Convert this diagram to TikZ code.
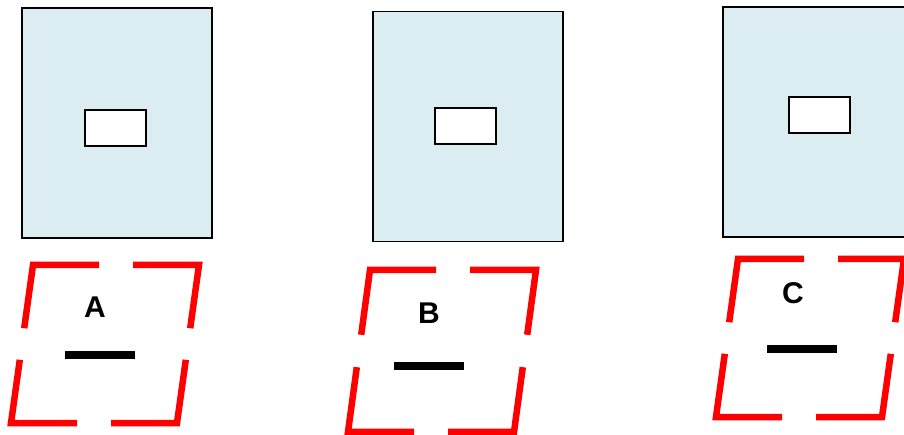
\documentclass[tikz,border=0pt]{standalone}
\usepackage{fontspec}
\setsansfont{Liberation Sans}
\usepackage{xcolor}
\usepackage{tikz}
\definecolor{paleblue}{RGB}{219,237,240}

\begin{document}
\begin{tikzpicture}[
  x=1pt, y=-1pt,
  panel/.style={draw, line width=1.8pt, fill=paleblue, minimum width=190, minimum height=230, inner sep=0pt},
  window/.style={draw, line width=1.8pt, fill=white, minimum width=61, minimum height=36, inner sep=0pt},
  letter/.style={font=\sffamily\bfseries\fontsize{30}{36}\selectfont, inner sep=0pt},
  bar/.style={fill=black, minimum width=70, minimum height=7.5, inner sep=0pt},
  frameline/.style={draw=red, line width=6.5pt},
  frame/.pic={
    \draw[frameline] (66,0) -- (0,0) -- (-8.8,63.2);
    \draw[frameline] (100,0) -- (166,0) -- (157.2,63.2);
    \draw[frameline] (-13.2,94.8) -- (-22,158) -- (44,158);
    \draw[frameline] (78,158) -- (144,158) -- (152.8,94.8);
  }
]
  \useasboundingbox (0,0) rectangle (904,435);

  % upper panels
  \node[panel] (panelA) at (117,123) {};
  \node[panel] (panelB) at (468,126.5) {};
  \node[panel] (panelC) at (818,122) {};
  \node[window] (winA) at (115.5,128) {};
  \node[window] (winB) at (465.5,126) {};
  \node[window] (winC) at (819.5,115) {};

  % lower frames
  \pic at (33,265) {frame};
  \pic[yscale=1.025] at (370,270) {frame};
  \pic at (738,259) {frame};

  \node[letter] (labelA) at (95,307) {A};
  \node[letter] (labelB) at (429,313) {B};
  \node[letter] (labelC) at (793,293) {C};
  \node[bar] (barA) at (100,355) {};
  \node[bar] (barB) at (429,366) {};
  \node[bar] (barC) at (802,349) {};
\end{tikzpicture}
\end{document}
